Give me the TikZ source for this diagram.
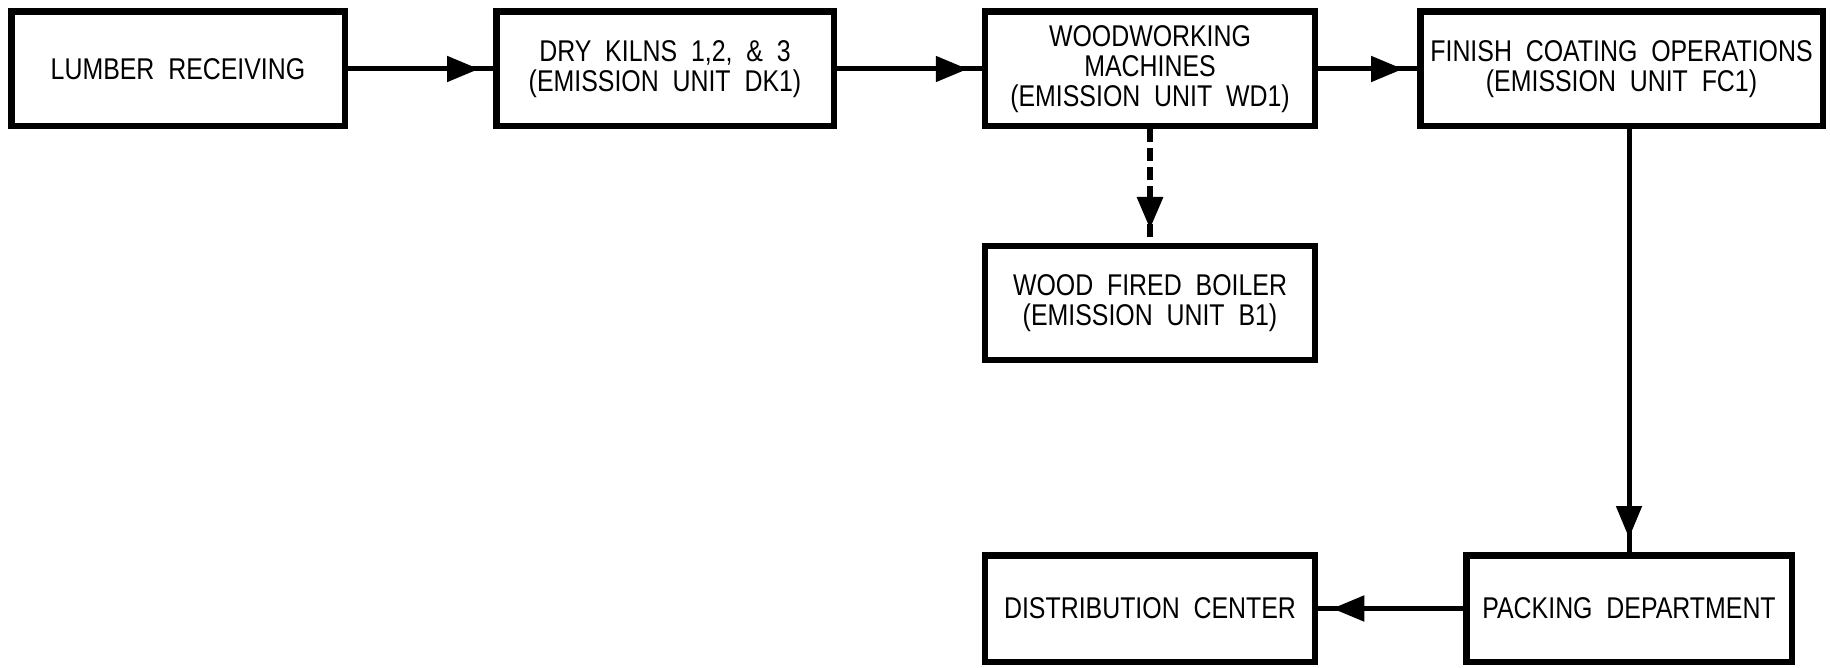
\documentclass[tikz,border=0pt]{standalone}
\usepackage{fontspec}
\setmainfont{Liberation Sans}[FakeStretch=0.83, WordSpace=2]
\usetikzlibrary{arrows.meta}

\begin{document}
\begin{tikzpicture}[
  x=0.5pt, y=-0.5pt,
  unitbox/.style={draw, line width=3.25pt, align=center, inner sep=0pt,
    font=\fontsize{15}{15}\selectfont, minimum width=165pt, minimum height=57.25pt},
  flow/.style={draw, line width=2.5pt,
    postaction={draw, -{Triangle[length=16pt, width=12.5pt]}, shorten >=7pt}},
  flowdash/.style={flow, line width=3pt, dash pattern=on 6.5pt off 3pt}
]

  \useasboundingbox (0,0) rectangle (1830,668);

  \node[unitbox, minimum width=166.75pt] (lumber) at (178,69) {LUMBER RECEIVING};
  \node[unitbox, minimum width=168.75pt] (kilns) at (665,69) {DRY KILNS 1,2, \& 3\\(EMISSION UNIT DK1)};
  \node[unitbox] (woodwork) at (1150,69) {WOODWORKING\\MACHINES\\(EMISSION UNIT WD1)};
  \node[unitbox, minimum width=201.25pt] (coating) at (1621.5,69) {FINISH COATING OPERATIONS\\(EMISSION UNIT FC1)};
  \node[unitbox, minimum height=56.75pt] (boiler) at (1150,303) {WOOD FIRED BOILER\\(EMISSION UNIT B1)};
  \node[unitbox, minimum height=53.25pt] (distrib) at (1150,608.5) {DISTRIBUTION CENTER};
  \node[unitbox, minimum width=162.75pt, minimum height=53.25pt] (packing) at (1629,608.5) {PACKING DEPARTMENT};

  \draw[flow] (lumber) -- (kilns);
  \draw[flow] (kilns) -- (woodwork);
  \draw[flow] (woodwork) -- (coating);
  \draw[flowdash] (woodwork) -- (boiler);
  \draw[flow] (packing.north |- coating.south) -- (packing);
  \draw[flow] (packing) -- (distrib);

\end{tikzpicture}
\end{document}
